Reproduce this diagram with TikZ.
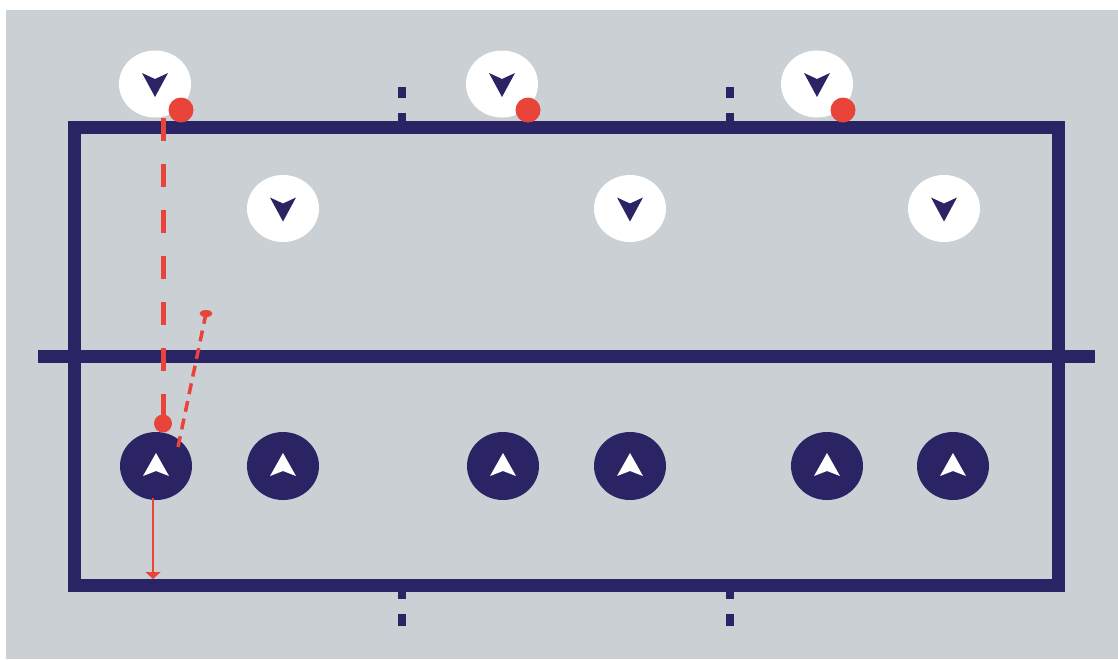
\documentclass[tikz,border=0pt]{standalone}
\usetikzlibrary{shapes.geometric,arrows.meta}
\definecolor{navy}{HTML}{2B2464}
\definecolor{redc}{HTML}{E8443A}
\definecolor{bgc}{HTML}{CBD0D4}
\tikzset{
  whiteplayer/.style={ellipse,fill=white,minimum width=72pt,minimum height=67pt,inner sep=0pt},
  navyplayer/.style={ellipse,fill=navy,minimum width=72pt,minimum height=68pt,inner sep=0pt},
  reddot/.style={circle,fill=redc,minimum size=25pt,inner sep=0pt},
  smalldot/.style={circle,fill=redc,minimum size=18pt,inner sep=0pt},
  tinyend/.style={ellipse,fill=redc,minimum width=13pt,minimum height=7pt,inner sep=0pt},
  courtline/.style={draw=navy,line width=13pt,line join=miter},
  centremark/.style={fill=navy},
  runline/.style={draw=redc,line width=5pt,dash pattern=on 23pt off 23pt},
  passline/.style={draw=redc,line width=3.5pt,dash pattern=on 11pt off 7pt},
  moveline/.style={draw=redc,line width=2.5pt,-{Triangle[width=15pt,length=7pt]}},
  downglyph/.pic={\fill[navy] (-13,-11) -- (0,-5) -- (13,-11) -- (0,13) -- cycle;},
  upglyph/.pic={\fill[white] (-13,10) -- (0,5) -- (13,10) -- (0,-13) -- cycle;}
}
\begin{document}
\begin{tikzpicture}[x=1pt,y=-1pt]
\useasboundingbox (0,0) rectangle (1118,659);
\fill[white] (0,0) rectangle (1118,659);
\fill[bgc] (6,10) rectangle (1118,659);
% court
\draw[courtline] (74.5,127) rectangle (1058,585);
\draw[courtline] (38,356) -- (1095,356);
% centre marks
\foreach \mx in {402,730}{
  \fill[centremark] (\mx-4,87) rectangle (\mx+4,98);
  \fill[centremark] (\mx-4,113) rectangle (\mx+4,127);
  \fill[centremark] (\mx-4,585) rectangle (\mx+4,599);
  \fill[centremark] (\mx-4,614) rectangle (\mx+4,626);
}
% white players
\node[whiteplayer] (w1) at (155,84) {};
\node[whiteplayer] (w2) at (502,84) {};
\node[whiteplayer] (w3) at (817,84) {};
\node[whiteplayer] (w4) at (283,208.5) {};
\node[whiteplayer] (w5) at (630,208.5) {};
\node[whiteplayer] (w6) at (944,208.5) {};
\foreach \n in {w1,w2,w3,w4,w5,w6}{ \pic at (\n) {downglyph}; }
% navy players
\node[navyplayer] (n1) at (156,466) {};
\node[navyplayer] (n2) at (283,466) {};
\node[navyplayer] (n3) at (503,466) {};
\node[navyplayer] (n4) at (630,466) {};
\node[navyplayer] (n5) at (827,466) {};
\node[navyplayer] (n6) at (953,466) {};
\foreach \n in {n1,n2,n3,n4,n5,n6}{ \pic at (\n) {upglyph}; }
% red balls
\node[reddot] (b1) at (181,110) {};
\node[reddot] (b2) at (528,110) {};
\node[reddot] (b3) at (843,110) {};
\node[smalldot] (b4) at (163,423.5) {};
\node[tinyend] (pe) at (206,313.5) {};
% red paths
\coordinate (runstart) at (163,118);
\draw[runline] (runstart) -- (b4.center);
\coordinate (passstart) at (178,447);
\draw[passline] (passstart) -- (pe.center);
\coordinate (movestart) at (153,498);
\coordinate (moveend) at (153,579);
\draw[moveline] (movestart) -- (moveend);
\end{tikzpicture}
\end{document}
